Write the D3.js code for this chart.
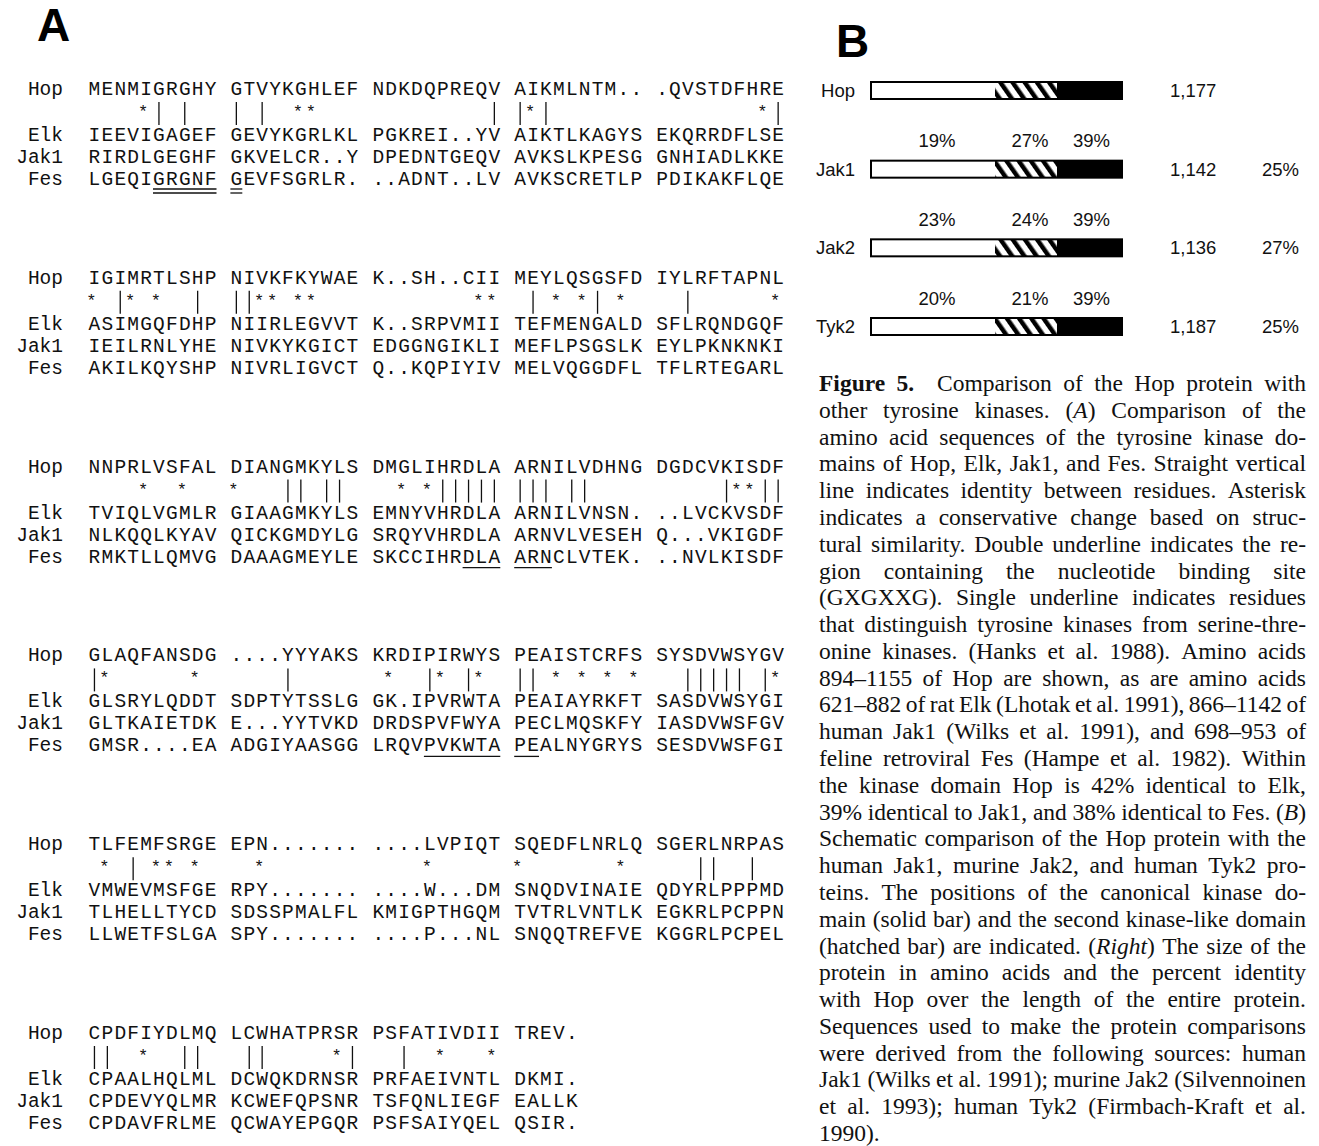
<!DOCTYPE html>
<html>
<head>
<meta charset="utf-8">
<script src="https://cdn.jsdelivr.net/npm/d3@7"></script>
<style>
  body { margin: 0; background: #fff; }
  svg { display: block; }
  .seq { font-family: "Liberation Mono", monospace; font-size: 19.5px; fill: #111; }
  .panel { font-family: "Liberation Sans", Arial, sans-serif; font-weight: bold; font-size: 46px; fill: #000; }
  .schem { font-family: "Liberation Sans", Arial, sans-serif; font-size: 18.5px; fill: #111; }
  .cap { font-family: "Liberation Serif", "Times New Roman", serif; font-size: 23.5px; fill: #111; }
</style>
</head>
<body>
<div class="root"></div>
<script>
// ---- panel A: aligned kinase domains ----
const seqNames = ["Hop", "Elk", "Jak1", "Fes"];

const hopSeq = [
  "MENMIGRGHY GTVYKGHLEF NDKDQPREQV AIKMLNTM.. .QVSTDFHRE",
  "IGIMRTLSHP NIVKFKYWAE K..SH..CII MEYLQSGSFD IYLRFTAPNL",
  "NNPRLVSFAL DIANGMKYLS DMGLIHRDLA ARNILVDHNG DGDCVKISDF",
  "GLAQFANSDG ....YYYAKS KRDIPIRWYS PEAISTCRFS SYSDVWSYGV",
  "TLFEMFSRGE EPN....... ....LVPIQT SQEDFLNRLQ SGERLNRPAS",
  "CPDFIYDLMQ LCWHATPRSR PSFATIVDII TREV."
];
const elkSeq = [
  "IEEVIGAGEF GEVYKGRLKL PGKREI..YV AIKTLKAGYS EKQRRDFLSE",
  "ASIMGQFDHP NIIRLEGVVT K..SRPVMII TEFMENGALD SFLRQNDGQF",
  "TVIQLVGMLR GIAAGMKYLS EMNYVHRDLA ARNILVNSN. ..LVCKVSDF",
  "GLSRYLQDDT SDPTYTSSLG GK.IPVRWTA PEAIAYRKFT SASDVWSYGI",
  "VMWEVMSFGE RPY....... ....W...DM SNQDVINAIE QDYRLPPPMD",
  "CPAALHQLML DCWQKDRNSR PRFAEIVNTL DKMI."
];
const jak1Seq = [
  "RIRDLGEGHF GKVELCR..Y DPEDNTGEQV AVKSLKPESG GNHIADLKKE",
  "IEILRNLYHE NIVKYKGICT EDGGNGIKLI MEFLPSGSLK EYLPKNKNKI",
  "NLKQQLKYAV QICKGMDYLG SRQYVHRDLA ARNVLVESEH Q...VKIGDF",
  "GLTKAIETDK E...YYTVKD DRDSPVFWYA PECLMQSKFY IASDVWSFGV",
  "TLHELLTYCD SDSSPMALFL KMIGPTHGQM TVTRLVNTLK EGKRLPCPPN",
  "CPDEVYQLMR KCWEFQPSNR TSFQNLIEGF EALLK"
];
const fesSeq = [
  "LGEQIGRGNF GEVFSGRLR. ..ADNT..LV AVKSCRETLP PDIKAKFLQE",
  "AKILKQYSHP NIVRLIGVCT Q..KQPIYIV MELVQGGDFL TFLRTEGARL",
  "RMKTLLQMVG DAAAGMEYLE SKCCIHRDLA ARNCLVTEK. ..NVLKISDF",
  "GMSR....EA ADGIYAASGG LRQVPVKWTA PEALNYGRYS SESDVWSFGI",
  "LLWETFSLGA SPY....... ....P...NL SNQQTREFVE KGGRLPCPEL",
  "CPDAVFRLME QCWAYEPGQR PSFSAIYQEL QSIR."
];

// alignment columns (space between groups counts as a column)
const identityCols = [
  [5, 7, 11, 13, 31, 33, 35, 53],
  [2, 8, 11, 12, 34, 39, 46],
  [15, 16, 18, 19, 27, 28, 29, 30, 31, 33, 34, 35, 37, 38, 49, 52, 53],
  [0, 15, 26, 29, 33, 34, 46, 47, 48, 49, 50, 52],
  [3, 47, 48, 51],
  [0, 1, 7, 8, 12, 13, 20, 24]
];
const conservativeCols = [
  [4, 16, 17, 34, 52],
  [0, 3, 5, 13, 14, 16, 17, 30, 31, 36, 38, 41, 53],
  [4, 7, 11, 24, 26, 50, 51],
  [1, 8, 23, 27, 30, 36, 38, 40, 42, 53],
  [1, 5, 6, 8, 13, 26, 33, 41],
  [4, 19, 27, 31]
];
// underlined Fes residues: [block, first col, last col]
const doubleUnderline = [[0, 5, 9], [0, 11, 11]];
const singleUnderline = [[2, 29, 31], [2, 33, 35], [3, 26, 31], [3, 33, 34]];

// ---- panel B: schematic ----
const protNames = ["Hop", "Jak1", "Jak2", "Tyk2"];
const protLength = [1177, 1142, 1136, 1187];
const wholeIdentity = [null, 25, 27, 25];
const domainIdentity = [null, [19, 27, 39], [23, 24, 39], [20, 21, 39]];
const domainEdges = [0, 0.494, 0.741, 1]; // fraction of protein: N-term, kinase-like, kinase

const captionLines = [
  "<b>Figure</b> <b>5.</b>  Comparison of the Hop protein with",
  "other tyrosine kinases. (<i>A</i>) Comparison of the",
  "amino acid sequences of the tyrosine kinase do-",
  "mains of Hop, Elk, Jak1, and Fes. Straight vertical",
  "line indicates identity between residues. Asterisk",
  "indicates a conservative change based on struc-",
  "tural similarity. Double underline indicates the re-",
  "gion containing the nucleotide binding site",
  "(GXGXXG). Single underline indicates residues",
  "that distinguish tyrosine kinases from serine-thre-",
  "onine kinases. (Hanks et al. 1988). Amino acids",
  "894–1155 of Hop are shown, as are amino acids",
  "621–882 of rat Elk (Lhotak et al. 1991), 866–1142 of",
  "human Jak1 (Wilks et al. 1991), and 698–953 of",
  "feline retroviral Fes (Hampe et al. 1982). Within",
  "the kinase domain Hop is 42% identical to Elk,",
  "39% identical to Jak1, and 38% identical to Fes. (<i>B</i>)",
  "Schematic comparison of the Hop protein with the",
  "human Jak1, murine Jak2, and human Tyk2 pro-",
  "teins. The positions of the canonical kinase do-",
  "main (solid bar) and the second kinase-like domain",
  "(hatched bar) are indicated. (<i>Right</i>) The size of the",
  "protein in amino acids and the percent identity",
  "with Hop over the length of the entire protein.",
  "Sequences used to make the protein comparisons",
  "were derived from the following sources: human",
  "Jak1 (Wilks et al. 1991); murine Jak2 (Silvennoinen",
  "et al. 1993); human Tyk2 (Firmbach-Kraft et al.",
  "1990)."
];

const width = 1319;
const height = 1146;

const svg = d3
  .select("div.root")
  .append("svg")
  .attr("width", width)
  .attr("height", height);

svg.append("rect").attr("width", width).attr("height", height).attr("fill", "#fff");

svg.append("text").attr("class", "panel").attr("x", 37).attr("y", 41).text("A");
svg.append("text").attr("class", "panel").attr("x", 836).attr("y", 57).text("B");

// ---------- panel A ----------
const colX = d3.scaleLinear().domain([0, 54]).range([88, 784.6]);
const blockY = d3.scaleLinear().domain([0, 5]).range([88, 1032]);
// row centres relative to the Hop line of each block
const rowY = d3.scaleOrdinal().domain(["Hop", "Elk", "Jak1", "Fes"]).range([0, 46, 68, 90]);
const seqs = { Hop: hopSeq, Elk: elkSeq, Jak1: jak1Seq, Fes: fesSeq };

const residues = [];
const labels = [];
hopSeq.forEach((_, b) => {
  seqNames.forEach(name => {
    labels.push({ b, name });
    seqs[name][b].split("").forEach((ch, col) => {
      if (ch !== " ") residues.push({ b, name, col, ch });
    });
  });
});

const gA = svg.append("g");

gA.selectAll("text.name")
  .data(labels)
  .join("text")
  .attr("class", "seq name")
  .attr("x", 63)
  .attr("y", d => blockY(d.b) + rowY(d.name) + 7)
  .attr("text-anchor", "end")
  .text(d => d.name);

gA.selectAll("text.res")
  .data(residues)
  .join("text")
  .attr("class", "seq res")
  .attr("x", d => colX(d.col + 0.5))
  .attr("y", d => blockY(d.b) + rowY(d.name) + 7)
  .attr("text-anchor", "middle")
  .text(d => d.ch);

const bars = identityCols.flatMap((cols, b) => cols.map(col => ({ b, col })));
gA.selectAll("line.ident")
  .data(bars)
  .join("line")
  .attr("class", "ident")
  .attr("x1", d => colX(d.col + 0.5))
  .attr("x2", d => colX(d.col + 0.5))
  .attr("y1", d => blockY(d.b) + 14)
  .attr("y2", d => blockY(d.b) + 37)
  .attr("stroke", "#111")
  .attr("stroke-width", 1.3);

const stars = conservativeCols.flatMap((cols, b) => cols.map(col => ({ b, col })));
gA.selectAll("text.cons")
  .data(stars)
  .join("text")
  .attr("class", "cons")
  .attr("x", d => colX(d.col + 0.5) - 3)
  .attr("y", d => blockY(d.b) + 29)
  .attr("text-anchor", "middle")
  .style("font-family", "Liberation Mono, monospace")
  .style("font-size", "17px")
  .attr("fill", "#111")
  .text("*");

const ulines = [];
doubleUnderline.forEach(([b, c0, c1]) => {
  ulines.push({ b, c0, c1, dy: 11 });
  ulines.push({ b, c0, c1, dy: 15 });
});
singleUnderline.forEach(([b, c0, c1]) => ulines.push({ b, c0, c1, dy: 12 }));
gA.selectAll("line.ul")
  .data(ulines)
  .join("line")
  .attr("class", "ul")
  .attr("x1", d => colX(d.c0) + 0.5)
  .attr("x2", d => colX(d.c1 + 1) - 0.5)
  .attr("y1", d => blockY(d.b) + rowY("Fes") + d.dy)
  .attr("y2", d => blockY(d.b) + rowY("Fes") + d.dy)
  .attr("stroke", "#111")
  .attr("stroke-width", 1.3);

// ---------- panel B ----------
const defs = svg.append("defs");
const pat = defs
  .append("pattern")
  .attr("id", "hatch")
  .attr("patternUnits", "userSpaceOnUse")
  .attr("width", 10)
  .attr("height", 10)
  .attr("patternTransform", "rotate(-35)");
pat.append("rect").attr("width", 10).attr("height", 10).attr("fill", "#fff");
pat.append("rect").attr("width", 4.5).attr("height", 10).attr("fill", "#000");

const barX = d3.scaleLinear().domain([0, 1]).range([871, 1122]);
const barY = d3.scalePoint().domain(protNames).range([90.5, 326.5]);
const barH = 17;
const gB = svg.append("g");

const prot = protNames.map((name, i) => ({
  name,
  len: protLength[i],
  whole: wholeIdentity[i],
  dom: domainIdentity[i]
}));

gB.selectAll("text.pname")
  .data(prot)
  .join("text")
  .attr("class", "schem")
  .attr("x", 855)
  .attr("y", d => barY(d.name) + 6.5)
  .attr("text-anchor", "end")
  .text(d => d.name);

const segFill = ["#fff", "url(#hatch)", "#000"];
const segs = prot.flatMap(p =>
  [0, 1, 2].map(k => ({ p, k, x0: domainEdges[k], x1: domainEdges[k + 1] }))
);
gB.selectAll("rect.seg")
  .data(segs)
  .join("rect")
  .attr("x", d => barX(d.x0))
  .attr("width", d => barX(d.x1) - barX(d.x0))
  .attr("y", d => barY(d.p.name) - barH / 2)
  .attr("height", barH)
  .attr("fill", d => segFill[d.k]);

gB.selectAll("rect.outline")
  .data(prot)
  .join("rect")
  .attr("x", barX(0))
  .attr("width", barX(1) - barX(0))
  .attr("y", d => barY(d.name) - barH / 2)
  .attr("height", barH)
  .attr("fill", "none")
  .attr("stroke", "#000")
  .attr("stroke-width", 2);

const domLabels = prot
  .filter(p => p.dom)
  .flatMap(p => p.dom.map((v, k) => ({ p, v, k })));
gB.selectAll("text.dom")
  .data(domLabels)
  .join("text")
  .attr("class", "schem")
  .attr("x", d => barX((domainEdges[d.k] + domainEdges[d.k + 1]) / 2) + (d.k === 2 ? 2 : 4))
  .attr("y", d => barY(d.p.name) - 22)
  .attr("text-anchor", "middle")
  .text(d => `${d.v}%`);

gB.selectAll("text.len")
  .data(prot)
  .join("text")
  .attr("class", "schem")
  .attr("x", 1170)
  .attr("y", d => barY(d.name) + 6.5)
  .text(d => d3.format(",")(d.len));

gB.selectAll("text.whole")
  .data(prot.filter(p => p.whole !== null))
  .join("text")
  .attr("class", "schem")
  .attr("x", 1262)
  .attr("y", d => barY(d.name) + 6.5)
  .text(d => `${d.whole}%`);

// ---------- caption (justified) ----------
const capLeft = 819;
const capRight = 1306;
const capY = d3.scaleLinear().domain([0, captionLines.length - 1]).range([385, 1135]);
const gC = svg.append("g");

function parseWord(w) {
  const out = [];
  const re = /<(b|i)>(.*?)<\/\1>|([^<]+)/g;
  let m;
  while ((m = re.exec(w))) {
    if (m[1]) out.push({ t: m[2], s: m[1] });
    else out.push({ t: m[3], s: null });
  }
  return out;
}

captionLines.forEach((line, li) => {
  const words = [];
  const gaps = [];
  let pending = 0;
  line.split(" ").forEach(p => {
    if (p === "") { pending++; return; }
    if (words.length) gaps.push(1 + pending);
    pending = 0;
    words.push(p);
  });
  const y = capY(li) + 6;
  const nodes = words.map(w => {
    const t = gC.append("text").attr("class", "cap").attr("y", y);
    parseWord(w).forEach(seg => {
      const ts = t.append("tspan").text(seg.t);
      if (seg.s === "b") ts.style("font-weight", "bold");
      if (seg.s === "i") ts.style("font-style", "italic");
    });
    return t;
  });
  const widths = nodes.map(n => n.node().getComputedTextLength());
  const total = d3.sum(widths);
  const weight = d3.sum(gaps);
  const last = li === captionLines.length - 1;
  const unit = last || weight === 0 ? 6 : (capRight - capLeft - total) / weight;
  let x = capLeft;
  nodes.forEach((n, i) => {
    n.attr("x", x);
    x += widths[i] + (i < gaps.length ? gaps[i] * unit : 0);
  });
});
</script>
</body>
</html>
